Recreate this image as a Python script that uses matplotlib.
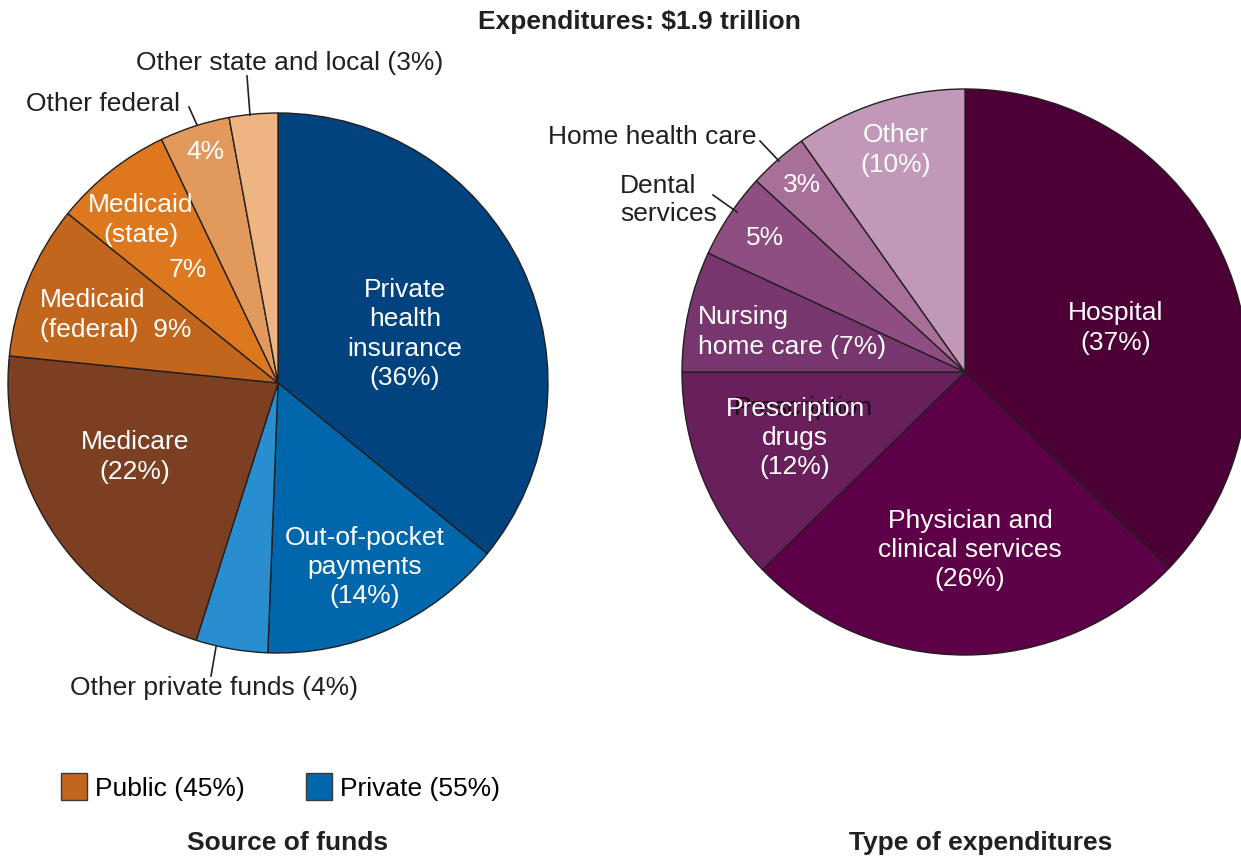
import matplotlib.pyplot as plt
import matplotlib.patches as mpatches

plt.rcParams['font.family'] = ['Liberation Sans', 'DejaVu Sans']

W, H = 1241, 861

# Source of funds, clockwise from 12 o'clock (percent)
fund_names = ['Private health insurance', 'Out-of-pocket payments', 'Other private funds',
              'Medicare', 'Medicaid (federal)', 'Medicaid (state)', 'Other federal',
              'Other state and local']
fund_shares = [35.9, 14.7, 4.3, 21.7, 9.2, 7.1, 4.2, 2.9]
fund_colors = ['#00437f', '#0067ad', '#288ecf', '#7d3f22', '#c1661c', '#de781e',
               '#e19a5b', '#eeb583']

# Type of expenditures, clockwise from 12 o'clock (percent)
exp_names = ['Hospital', 'Physician and clinical services', 'Prescription drugs',
             'Nursing home care', 'Dental services', 'Home health care', 'Other']
exp_shares = [37.2, 25.5, 12.3, 6.9, 4.9, 3.4, 9.8]
exp_colors = ['#4d0036', '#5e0047', '#6a1f5d', '#78366f', '#8f4e82', '#a86f99', '#c298b9']

legend_labels = ['Public (45%)', 'Private (55%)']
legend_colors = ['#c1661c', '#0067ad']

# inside labels (white): text, x, y (pixels from top-left), alignment
fund_inner = [
    ('Private\nhealth\ninsurance\n(36%)', 405, 334, 'center'),
    ('Out-of-pocket\npayments\n(14%)', 365, 567, 'center'),
    ('Medicare\n(22%)', 135, 457, 'center'),
    ('Medicaid\n(federal)  9%', 40, 315, 'left'),
    ('Medicaid\n(state)', 141, 220, 'center'),
    ('7%', 188, 270, 'center'),
    ('4%', 205, 152, 'center'),
]
exp_inner = [
    ('Hospital\n(37%)', 1116, 328, 'center'),
    ('Physician and\nclinical services\n(26%)', 970, 550, 'center'),
    ('Prescription\ndrugs\n(12%)', 795, 438, 'center'),
    ('Nursing\nhome care (7%)', 698, 332, 'left'),
    ('5%', 765, 238, 'center'),
    ('3%', 802, 185, 'center'),
    ('Other\n(10%)', 896, 150, 'center'),
]
# outside labels with leader lines: text, x, y, ha, line (x0, y0, x1, y1)
outer = [
    ('Other state and local (3%)', 290, 63, 'center', (247, 76, 250, 115)),
    ('Other federal', 180, 104, 'right', (189, 107, 197, 125)),
    ('Other private funds (4%)', 214, 688, 'center', (216, 647, 211, 676)),
    ('Home health care', 757, 137, 'right', (760, 141, 779, 161)),
    ('Dental\nservices', 717, 200, 'right', (713, 195, 737, 212)),
]

FS = 19
LS = 1.28
edge = dict(edgecolor='#231f20', linewidth=1.0)

fig = plt.figure(figsize=(W / 100, H / 100), dpi=100)
ax = fig.add_axes([0, 0, 1, 1])

ax.pie(fund_shares, colors=fund_colors, startangle=90, counterclock=False,
       center=(278, H - 383), radius=270, wedgeprops=edge)
ax.pie(exp_shares, colors=exp_colors, startangle=90, counterclock=False,
       center=(965, H - 372), radius=283, wedgeprops=edge)

ax.set_xlim(0, W)
ax.set_ylim(0, H)
ax.axis('off')

# ghost text behind "Prescription" (as in the original)
ax.text(803, H - 408, 'Prescription', fontsize=FS, color='#1c0a18',
        ha='center', va='center')

for txt, x, y, ha in fund_inner + exp_inner:
    ax.text(x, H - y, txt, fontsize=FS, color='white', ha=ha, va='center',
            multialignment=ha, linespacing=LS)

for txt, x, y, ha, (x0, y0, x1, y1) in outer:
    ax.text(x, H - y, txt, fontsize=FS, color='#231f20', ha=ha, va='center',
            multialignment='left', linespacing=1.2)
    ax.plot([x0, x1], [H - y0, H - y1], color='#231f20', lw=1.2)

ax.text(639, H - 22, 'Expenditures: $1.9 trillion', fontsize=FS, fontweight='bold',
        color='#231f20', ha='center', va='center')
ax.text(288, H - 843, 'Source of funds', fontsize=FS, fontweight='bold',
        color='#231f20', ha='center', va='center')
ax.text(981, H - 843, 'Type of expenditures', fontsize=FS, fontweight='bold',
        color='#231f20', ha='center', va='center')

handles = [mpatches.Patch(facecolor=c, edgecolor='#3a3a3a', linewidth=1.0)
           for c in legend_colors]
ax.legend(handles, legend_labels, loc='center left',
          bbox_to_anchor=(61 / W, 1 - 787 / H), ncol=2, frameon=False,
          fontsize=FS, handlelength=1.0, handleheight=1.15, handletextpad=0.3,
          columnspacing=2.3, borderpad=0, borderaxespad=0)

fig.savefig('out.png', dpi=100)
